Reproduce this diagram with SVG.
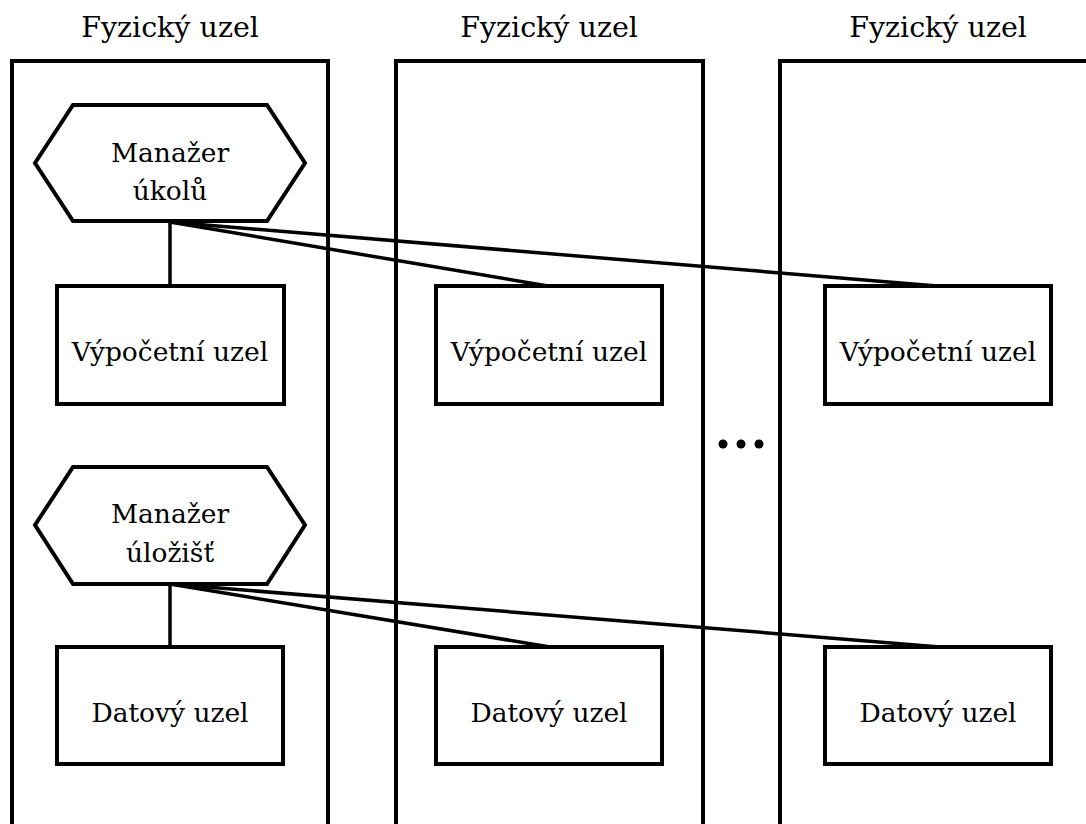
<svg xmlns="http://www.w3.org/2000/svg" width="1086" height="824" viewBox="0 0 1086 824">
<style>
.frame{fill:none;stroke:#000;stroke-width:4}
.box{fill:#fff;stroke:#000;stroke-width:4}
.hex{fill:#fff;stroke:#000;stroke-width:4;stroke-linejoin:miter}
.conn{fill:none;stroke:#000;stroke-width:3.5}
.t{font-family:"DejaVu Serif","Liberation Serif",serif;font-size:26.5px;text-anchor:middle;fill:#000}
.title{font-family:"DejaVu Serif","Liberation Serif",serif;font-size:28.5px;text-anchor:middle;fill:#000}
</style>
<rect width="1086" height="824" fill="#fff"/>
<g id="phys1">
<rect class="frame" x="12" y="61" width="316" height="790"/>
<text class="title" x="170" y="37">Fyzický uzel</text>
</g>
<g id="phys2">
<rect class="frame" x="396" y="61" width="307" height="790"/>
<text class="title" x="549" y="37">Fyzický uzel</text>
</g>
<g id="phys3">
<rect class="frame" x="780" y="61" width="320" height="790"/>
<text class="title" x="938" y="37">Fyzický uzel</text>
</g>
<g id="connectors">
<line class="conn" x1="170" y1="222" x2="170" y2="286"/>
<line class="conn" x1="170" y1="222" x2="548" y2="286"/>
<line class="conn" x1="170" y1="222" x2="937" y2="286"/>
<line class="conn" x1="170" y1="584" x2="170" y2="647"/>
<line class="conn" x1="170" y1="584" x2="550" y2="647"/>
<line class="conn" x1="170" y1="584" x2="940" y2="647"/>
</g>
<g id="task-manager">
<polygon class="hex" points="35,163 73,105 267,105 305,163 267,221 73,221"/>
<text class="t" x="170" y="162">Manažer</text>
<text class="t" x="170" y="200">úkolů</text>
</g>
<g id="storage-manager">
<polygon class="hex" points="35,525 73,467 267,467 305,525 267,584 73,584"/>
<text class="t" x="170" y="523">Manažer</text>
<text class="t" x="170" y="562">úložišť</text>
</g>
<g id="compute1">
<rect class="box" x="57" y="286" width="227" height="118"/>
<text class="t" x="170" y="361">Výpočetní uzel</text>
</g>
<g id="compute2">
<rect class="box" x="436" y="286" width="226" height="118"/>
<text class="t" x="549" y="361">Výpočetní uzel</text>
</g>
<g id="compute3">
<rect class="box" x="825" y="286" width="226" height="118"/>
<text class="t" x="938" y="361">Výpočetní uzel</text>
</g>
<g id="data1">
<rect class="box" x="57" y="647" width="226" height="117"/>
<text class="t" x="170" y="722">Datový uzel</text>
</g>
<g id="data2">
<rect class="box" x="436" y="647" width="226" height="117"/>
<text class="t" x="549" y="722">Datový uzel</text>
</g>
<g id="data3">
<rect class="box" x="825" y="647" width="226" height="117"/>
<text class="t" x="938" y="722">Datový uzel</text>
</g>
<g id="ellipsis">
<circle cx="723" cy="444" r="4.5"/>
<circle cx="741" cy="444" r="4.5"/>
<circle cx="759" cy="444" r="4.5"/>
</g>
</svg>
